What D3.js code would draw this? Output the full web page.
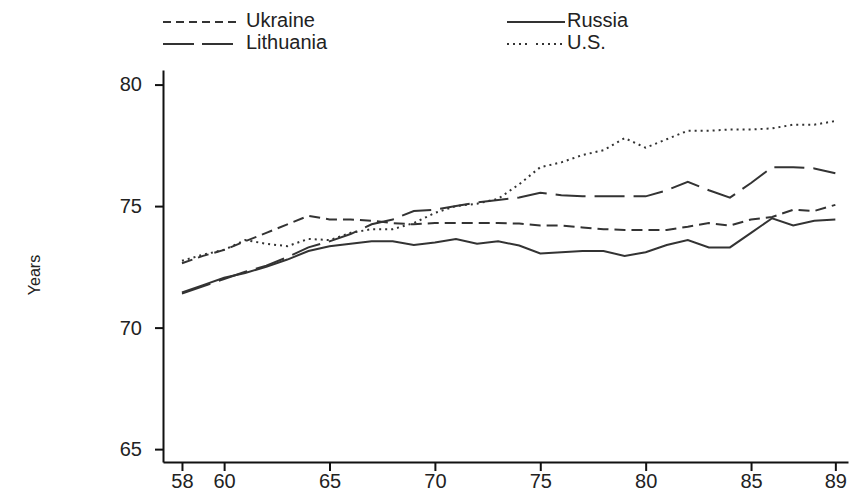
<!DOCTYPE html>
<html>
<head>
<meta charset="utf-8">
<script src="https://cdn.jsdelivr.net/npm/d3@7"></script>
<style>
  html, body { margin: 0; padding: 0; background: #fff; }
  svg { display: block; }
  text { font-family: "Liberation Sans", Arial, sans-serif; fill: #222; }
</style>
</head>
<body>
<svg id="chart" width="850" height="496"></svg>
<script>
// Female life expectancy at birth, 1958–1989
const years = [58, 59, 60, 61, 62, 63, 64, 65, 66, 67, 68, 69, 70, 71, 72, 73,
               74, 75, 76, 77, 78, 79, 80, 81, 82, 83, 84, 85, 86, 87, 88, 89];
const ukraine = [72.65, 72.95, 73.2, 73.55, 73.9, 74.25, 74.6, 74.45, 74.45, 74.4, 74.3, 74.25, 74.3, 74.3, 74.3, 74.3,
                 74.28, 74.2, 74.2, 74.12, 74.05, 74.02, 74.02, 74.02, 74.15, 74.3, 74.2, 74.45, 74.55, 74.85, 74.8, 75.05];
const russia = [71.45, 71.75, 72.05, 72.25, 72.5, 72.8, 73.15, 73.35, 73.45, 73.55, 73.55, 73.4, 73.5, 73.65, 73.45, 73.55,
                73.38, 73.05, 73.1, 73.15, 73.15, 72.95, 73.1, 73.4, 73.6, 73.3, 73.3, 73.9, 74.5, 74.2, 74.4, 74.45];
const lithuania = [71.4, 71.7, 72.0, 72.3, 72.55, 72.9, 73.3, 73.55, 73.85, 74.25, 74.45, 74.8, 74.85, 75.0, 75.15, 75.25,
                   75.35, 75.55, 75.45, 75.4, 75.4, 75.4, 75.4, 75.65, 76.0, 75.65, 75.35, 75.95, 76.6, 76.6, 76.55, 76.35];
const us = [72.75, 73.0, 73.2, 73.6, 73.45, 73.35, 73.65, 73.6, 73.9, 74.05, 74.05, 74.3, 74.72, 75.0, 75.1, 75.3,
            75.9, 76.6, 76.8, 77.1, 77.3, 77.8, 77.4, 77.75, 78.1, 78.1, 78.15, 78.15, 78.2, 78.35, 78.35, 78.5];

const xTicks = [58, 60, 65, 70, 75, 80, 85, 89];
const yTicks = [65, 70, 75, 80];

const seriesNames = ["Ukraine", "Lithuania", "Russia", "U.S."];
const seriesValues = [ukraine, lithuania, russia, us];
const seriesDash = ["11,6", "30,9", null, "2,4"];

const svg = d3.select("#chart");
const lineColor = "#333";

const x = d3.scaleLinear().domain([57.1, 89.6]).range([163, 848]);
const y = d3.scaleLinear().domain([64.47, 80.6]).range([462, 70]);

// Axes
const xAxis = svg.append("g")
  .attr("transform", "translate(0,462)")
  .call(d3.axisBottom(x).tickValues(xTicks).tickSizeInner(9).tickSizeOuter(0).tickPadding(3).tickFormat(d3.format("d")));
const yAxis = svg.append("g")
  .attr("transform", "translate(163,0)")
  .call(d3.axisLeft(y).tickValues(yTicks).tickSizeInner(8).tickSizeOuter(0).tickPadding(13).tickFormat(d3.format("d")));

[xAxis, yAxis].forEach(g => {
  g.select(".domain").attr("stroke", "#111").attr("stroke-width", 2);
  g.selectAll(".tick line").attr("stroke", "#111").attr("stroke-width", 2);
  g.selectAll(".tick text")
    .attr("fill", "#222")
    .style("font-family", "'Liberation Sans', Arial, sans-serif")
    .style("font-size", "20px");
});

// Axis title
svg.append("text")
  .attr("transform", "translate(40,275) rotate(-90)")
  .attr("text-anchor", "middle")
  .style("font-size", "16px")
  .text("Years");

// Series lines
const line = d3.line()
  .x((d, i) => x(years[i]))
  .y(d => y(d));

seriesValues.forEach((vals, k) => {
  svg.append("path")
    .datum(vals)
    .attr("d", line)
    .attr("fill", "none")
    .attr("stroke", lineColor)
    .attr("stroke-width", 2)
    .attr("stroke-dasharray", seriesDash[k]);
});

// Legend: two columns, two rows
const legendPos = [
  { x: 163, y: 22 },
  { x: 163, y: 44 },
  { x: 507, y: 22 },
  { x: 507, y: 44 }
];
const legendLen = [77, 70, 58, 58];
const legendDash = ["8,5", "31,8", null, "2,4,2,4,2,4,2,9,2,4,2,4,2,4,2,4,2,4,2,20"];

seriesNames.forEach((name, k) => {
  const p = legendPos[k];
  svg.append("line")
    .attr("x1", p.x).attr("x2", p.x + legendLen[k])
    .attr("y1", p.y).attr("y2", p.y)
    .attr("stroke", lineColor)
    .attr("stroke-width", 2)
    .attr("stroke-dasharray", legendDash[k]);
  svg.append("text")
    .attr("x", k < 2 ? 246 : 567)
    .attr("y", p.y + 5)
    .style("font-size", "20px")
    .text(name);
});
</script>
</body>
</html>
